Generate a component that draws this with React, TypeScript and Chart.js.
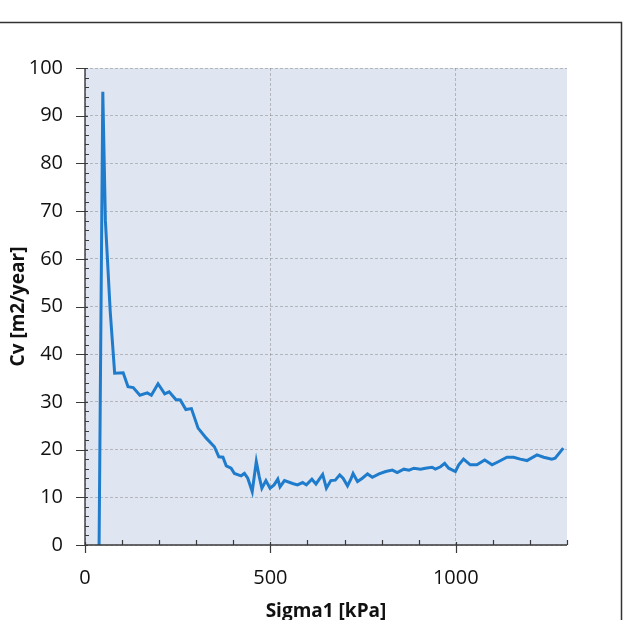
import React, { useEffect, useRef } from "react";
import Chart from "chart.js/auto";

const sigma1 = [38, 48, 55, 68, 80, 103, 116, 130, 148, 168, 179, 197, 215, 227, 245, 257, 272, 287, 305, 327, 349, 361, 372, 381, 394, 403, 421, 430, 439, 451, 462, 470, 477, 488, 499, 510, 520, 526, 538, 560, 573, 587, 597, 612, 623, 641, 651, 663, 675, 687, 696, 708, 717, 723, 735, 748, 762, 775, 793, 811, 829, 842, 860, 874, 887, 905, 918, 936, 945, 959, 970, 981, 999, 1008, 1021, 1039, 1057, 1078, 1098, 1116, 1138, 1156, 1174, 1192, 1219, 1237, 1259, 1268, 1290];
const cv = [0, 95, 68, 49, 36, 36.1, 33.2, 33.0, 31.4, 31.9, 31.4, 33.8, 31.7, 32.1, 30.5, 30.4, 28.4, 28.6, 24.5, 22.4, 20.6, 18.5, 18.4, 16.6, 16.1, 15.0, 14.5, 15.0, 14.0, 11.2, 17.5, 14.3, 11.9, 13.5, 11.9, 12.6, 13.8, 12.2, 13.5, 12.9, 12.6, 13.1, 12.6, 13.8, 12.8, 14.8, 11.9, 13.5, 13.6, 14.7, 14.0, 12.4, 13.8, 15.0, 13.3, 14.0, 14.9, 14.2, 14.9, 15.4, 15.7, 15.2, 15.9, 15.7, 16.1, 15.9, 16.1, 16.3, 15.9, 16.4, 17.1, 16.1, 15.4, 16.8, 18.0, 16.8, 16.8, 17.8, 16.8, 17.5, 18.4, 18.4, 18.0, 17.7, 18.9, 18.4, 18.0, 18.2, 20.3];

const xMajorTicks = [0, 500, 1000];
const yMajorTicks = [0, 10, 20, 30, 40, 50, 60, 70, 80, 90, 100];
const xMinorTicks = [100, 200, 300, 400, 600, 700, 800, 900, 1100, 1200, 1300];
const yMinorTicks = [2, 4, 6, 8, 12, 14, 16, 18, 22, 24, 26, 28, 32, 34, 36, 38, 42, 44, 46, 48, 52, 54, 56, 58, 62, 64, 66, 68, 72, 74, 76, 78, 82, 84, 86, 88, 92, 94, 96, 98];

const FONT = '"Open Sans", Lato, sans-serif';

const decoPlugin = {
  id: "deco",
  beforeDraw(chart: any) {
    const { ctx, chartArea } = chart;
    ctx.save();
    ctx.fillStyle = "#ffffff";
    ctx.fillRect(0, 0, chart.width, chart.height);
    ctx.fillStyle = "#dfe6f1";
    ctx.fillRect(chartArea.left, chartArea.top, chartArea.right - chartArea.left, chartArea.bottom - chartArea.top);
    ctx.strokeStyle = "#333333";
    ctx.lineWidth = 1.5;
    ctx.beginPath();
    ctx.moveTo(0, 22.5);
    ctx.lineTo(621.5, 22.5);
    ctx.lineTo(621.5, chart.height);
    ctx.stroke();
    ctx.restore();
  },
  afterDraw(chart: any) {
    const { ctx, chartArea, scales } = chart;
    const { left, right, top, bottom } = chartArea;
    const x = scales.x;
    const y = scales.y;
    ctx.save();
    ctx.strokeStyle = "#3a3a3a";
    ctx.lineWidth = 1.4;
    ctx.beginPath();
    ctx.moveTo(left, top);
    ctx.lineTo(left, bottom);
    ctx.lineTo(right, bottom);
    ctx.stroke();
    ctx.lineWidth = 1.2;
    ctx.beginPath();
    for (const v of yMajorTicks) {
      const py = Math.round(y.getPixelForValue(v)) + 0.5;
      ctx.moveTo(left - 9, py);
      ctx.lineTo(left + 3, py);
    }
    for (const v of yMinorTicks) {
      const py = Math.round(y.getPixelForValue(v)) + 0.5;
      ctx.moveTo(left, py);
      ctx.lineTo(left + 4, py);
    }
    for (const v of xMajorTicks) {
      const px = Math.round(x.getPixelForValue(v)) + 0.5;
      ctx.moveTo(px, bottom - 3);
      ctx.lineTo(px, bottom + 8);
    }
    for (const v of xMinorTicks) {
      const px = Math.round(x.getPixelForValue(v)) + 0.5;
      ctx.moveTo(px, bottom - 5);
      ctx.lineTo(px, bottom);
    }
    ctx.stroke();
    ctx.restore();
  },
};

export default function App() {
  const canvasRef = useRef<HTMLCanvasElement | null>(null);

  useEffect(() => {
    const canvas = canvasRef.current;
    if (!canvas) return;
    const points = sigma1.map((s, i) => ({ x: s, y: cv[i] }));
    const chart = new Chart(canvas, {
      type: "line",
      data: {
        datasets: [
          {
            data: points,
            borderColor: "#1f7bcb",
            borderWidth: 3,
            pointRadius: 0,
            tension: 0,
            fill: false,
          },
        ],
      },
      options: {
        animation: false,
        responsive: false,
        maintainAspectRatio: false,
        layout: { padding: { top: 68, right: 62, bottom: 0, left: 0 } },
        plugins: { legend: { display: false }, tooltip: { enabled: false }, title: { display: false } },
        scales: {
          x: {
            type: "linear",
            min: 0,
            max: 1300,
            afterBuildTicks: (scale: any) => {
              scale.ticks = xMajorTicks.map((v) => ({ value: v }));
            },
            afterFit: (scale: any) => {
              scale.height = 75;
            },
            grid: {
              drawTicks: false,
              color: "rgba(110,110,110,0.4)",
              lineWidth: 1,
            },
            border: { display: false, dash: [3, 2] },
            ticks: {
              padding: 21,
              color: "#111111",
              font: { family: FONT, size: 20 },
              maxRotation: 0,
              callback: (v: any) => String(v),
            },
            title: {
              display: true,
              text: "Sigma1 [kPa]",
              color: "#111111",
              font: { family: FONT, size: 19, weight: "bold" },
              padding: { top: 0, bottom: -3 },
            },
          },
          y: {
            type: "linear",
            min: 0,
            max: 100,
            afterBuildTicks: (scale: any) => {
              scale.ticks = yMajorTicks.map((v) => ({ value: v }));
            },
            afterFit: (scale: any) => {
              scale.width = 85;
            },
            grid: {
              drawTicks: false,
              color: "rgba(110,110,110,0.4)",
              lineWidth: 1,
            },
            border: { display: false, dash: [3, 2] },
            ticks: {
              padding: 22,
              color: "#111111",
              font: { family: FONT, size: 20 },
              callback: (v: any) => String(v),
            },
            title: {
              display: true,
              text: "Cv [m2/year]",
              color: "#111111",
              font: { family: FONT, size: 19, weight: "bold" },
              padding: 7,
            },
          },
        },
      },
      plugins: [decoPlugin],
    });
    return () => chart.destroy();
  }, []);

  return (
    <div style={{ position: "fixed", left: 0, top: 0, width: 629, height: 620, background: "#ffffff" }}>
      <canvas ref={canvasRef} width={629} height={620} style={{ width: 629, height: 620, display: "block" }} />
    </div>
  );
}
